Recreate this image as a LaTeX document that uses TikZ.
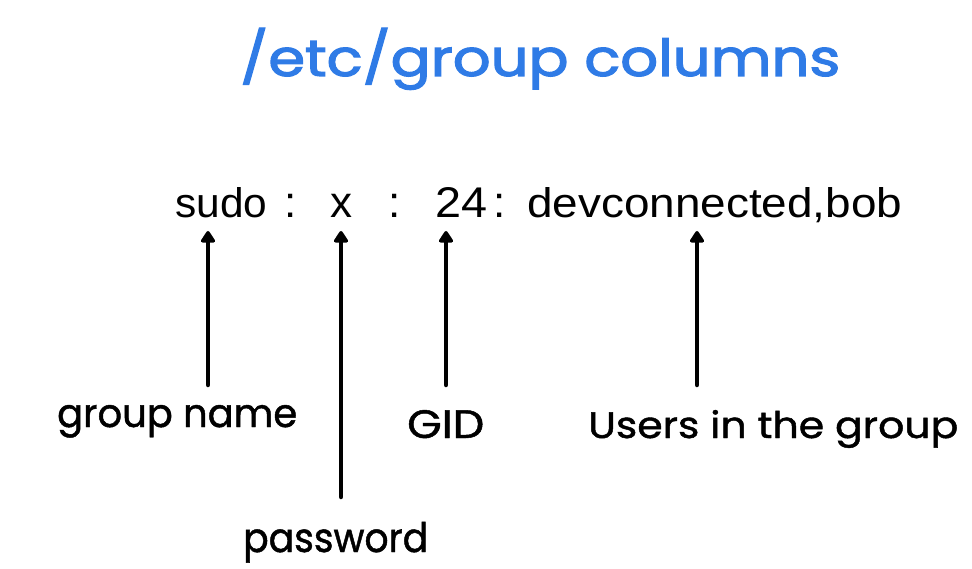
\documentclass[tikz,border=0pt]{standalone}
\usepackage{fontspec}
\setmainfont{Liberation Sans}
\newfontfamily\labfont[FakeBold=1.2]{Poppins}
\newfontfamily\titlefont[FakeBold=2.2]{Poppins}
\usetikzlibrary{arrows.meta}
\definecolor{titleblue}{RGB}{47,123,230}
\begin{document}
\begin{tikzpicture}[x=1pt,y=-1pt,
  lab/.style={anchor=base west, inner sep=0pt, font=\labfont},
  code/.style={anchor=base west, inner sep=0pt},
  colon/.style={anchor=base, inner sep=0pt, font=\fontsize{44}{44}\selectfont},
  arr/.style={line width=4.5pt, line cap=round, -{Triangle[width=16pt,length=13pt,round]}}]
\useasboundingbox (0,0) rectangle (972,569);
% title
\node[lab, font=\titlefont, text=titleblue] (title) at (240,76) {\resizebox{600pt}{48pt}{/etc/group columns}};
% code line
\node[code] (sudo) at (175,218) {\resizebox{92pt}{30pt}{sudo}};
\node[colon] (c1) at (291,218) {:};
\node[colon] (pw) at (341,218) {x};
\node[colon] (c2) at (395,218) {:};
\node[code] (gid) at (435,218) {\resizebox{52pt}{30pt}{24}};
\node[colon] (c3) at (500,218) {:};
\node[code] (users) at (527,218) {\resizebox{375pt}{30pt}{devconnected,bob}};
% labels
\node[lab] (lgn) at (57,427) {\resizebox{240pt}{22pt}{group name}};
\node[lab] (lgid) at (407,438) {\resizebox{77pt}{28pt}{GID}};
\node[lab] (lusers) at (588,438) {\resizebox{370pt}{28pt}{Users in the group}};
\node[lab] (lpw) at (243,552) {\resizebox{185pt}{30pt}{password}};
% arrow ends
\coordinate (s1) at (208,385); \coordinate (t1) at (208,231);
\coordinate (s2) at (341,497); \coordinate (t2) at (341,231);
\coordinate (s3) at (446,385); \coordinate (t3) at (446,231);
\coordinate (s4) at (697,385); \coordinate (t4) at (697,231);
\draw[arr] (s1) -- (t1);
\draw[arr] (s2) -- (t2);
\draw[arr] (s3) -- (t3);
\draw[arr] (s4) -- (t4);
\end{tikzpicture}
\end{document}
